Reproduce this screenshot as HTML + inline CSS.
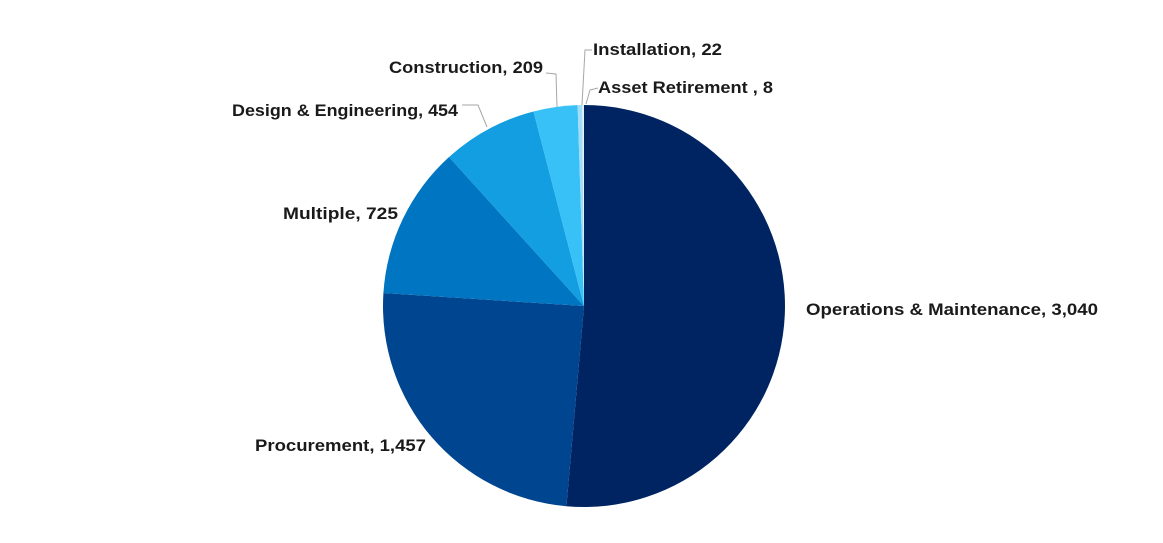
<!DOCTYPE html>
<html><head><meta charset="utf-8"><style>
html,body{margin:0;padding:0;background:#fff;}
svg text{font-family:"Liberation Sans",sans-serif;font-weight:bold;font-size:17px;fill:#1a1a1a;}
</style></head><body>
<svg id="chart" width="1163" height="538" viewBox="0 0 1163 538" xmlns="http://www.w3.org/2000/svg"></svg>
<script>
const categories = ["Operations & Maintenance","Procurement","Multiple","Design & Engineering","Construction","Installation","Asset Retirement "];
const values = [3040,1457,725,454,209,22,8];
const valueLabels = ["3,040","1,457","725","454","209","22","8"];
const colors = ["#002462","#00458f","#0075c2","#129ee0","#38c1f7","#a3dcf5","#dff3fb"];
const labelBoxes = [[806,315,292],[255,451,171],[283,219,115],[232,116,226],[389,73,154],[593,55,129],[598,93,175]];
const leaders = [null,null,null,[[462,105],[478,105],[487,127]],[[546,73],[556,74],[557,107]],[[592,50],[585,50],[582,105]],[[598,88],[590,90],[586,104]]];
const NS="http://www.w3.org/2000/svg";
const svg=document.getElementById('chart');
const cx=584, cy=306, r=201;
const total=values.reduce((a,b)=>a+b,0);
function pt(a,rr){return [cx+rr*Math.sin(a), cy-rr*Math.cos(a)];}
let start=0;
values.forEach((v,i)=>{
  const sweep=v/total*2*Math.PI, end=start+sweep;
  const [x1,y1]=pt(start,r),[x2,y2]=pt(end,r);
  const p=document.createElementNS(NS,'path');
  p.setAttribute('d',`M${cx},${cy} L${x1},${y1} A${r},${r} 0 ${sweep>Math.PI?1:0} 1 ${x2},${y2} Z`);
  p.setAttribute('fill',colors[i]);
  
  
  svg.appendChild(p);
  start=end;
});
categories.forEach((c,i)=>{
  if(leaders[i]){
    const pl=document.createElementNS(NS,'polyline');
    pl.setAttribute('points',leaders[i].map(q=>q.join(',')).join(' '));
    pl.setAttribute('fill','none');
    pl.setAttribute('stroke','#a6a6a6');
    pl.setAttribute('stroke-width','1');
    
    
    svg.appendChild(pl);
  }
  const b=labelBoxes[i];
  const t=document.createElementNS(NS,'text');
  t.setAttribute('x',b[0]);t.setAttribute('y',b[1]);
  t.setAttribute('textLength',b[2]);
  t.setAttribute('lengthAdjust','spacingAndGlyphs');
  t.textContent=c+',  '+valueLabels[i];
  
  
  svg.appendChild(t);
});
</script>
</body></html>
